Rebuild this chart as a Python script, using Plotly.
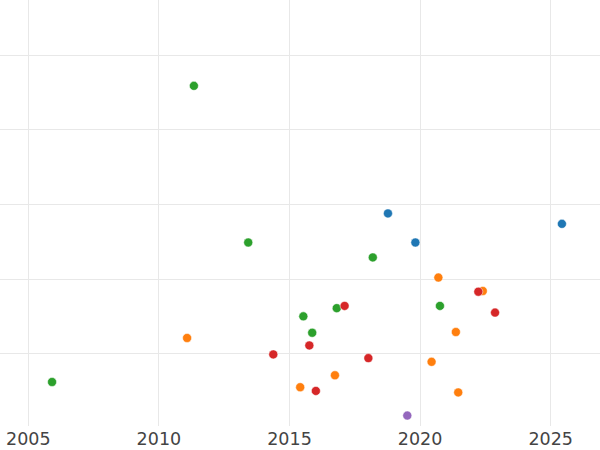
import plotly.graph_objects as go

# Data (x = year, y = arbitrary units; gridlines at integer y)
blue_x = [2018.77, 2019.82, 2025.43]
blue_y = [1.88, 1.49, 1.74]

orange_x = [2011.08, 2015.41, 2016.74, 2020.70, 2022.40, 2021.37, 2020.44, 2021.46]
orange_y = [0.21, -0.45, -0.29, 1.02, 0.84, 0.29, -0.11, -0.52]

green_x = [2011.34, 2013.42, 2005.91, 2018.19, 2015.53, 2015.87, 2016.81, 2020.76]
green_y = [3.59, 1.49, -0.38, 1.29, 0.50, 0.28, 0.61, 0.64]

red_x = [2014.38, 2017.11, 2015.76, 2016.01, 2018.02, 2022.23, 2022.87]
red_y = [-0.01, 0.64, 0.11, -0.50, -0.06, 0.83, 0.55]

purple_x = [2019.51]
purple_y = [-0.83]

series = [
    (blue_x, blue_y, "#1f77b4"),
    (orange_x, orange_y, "#ff7f0e"),
    (green_x, green_y, "#2ca02c"),
    (red_x, red_y, "#d62728"),
    (purple_x, purple_y, "#9467bd"),
]

x_ticks = [2005, 2010, 2015, 2020, 2025]

fig = go.Figure()
for xs, ys, col in series:
    fig.add_trace(go.Scatter(
        x=xs, y=ys, mode="markers",
        marker=dict(size=9, color=col, line=dict(width=0.5, color="white")),
        showlegend=False,
    ))

fig.update_layout(
    width=600, height=450,
    margin=dict(l=0, r=0, t=0, b=24, pad=0),
    paper_bgcolor="white", plot_bgcolor="white",
    font=dict(family="DejaVu Sans", size=17.5, color="#444444"),
    xaxis=dict(
        range=[2003.917, 2026.888],
        tickvals=x_ticks, ticktext=[str(t) for t in x_ticks],
        showgrid=True, gridcolor="#e8e8e8", gridwidth=1,
        zeroline=False, showline=False, ticks="",
    ),
    yaxis=dict(
        range=[-0.97, 4.741],
        dtick=1, tick0=0,
        showticklabels=False,
        showgrid=True, gridcolor="#e8e8e8", gridwidth=1,
        zeroline=False, showline=False, ticks="",
    ),
)

fig.write_html(
    "out.html",
    config={"displayModeBar": False},
    post_script="document.body.style.margin='0';document.body.style.overflow='hidden';",
)
